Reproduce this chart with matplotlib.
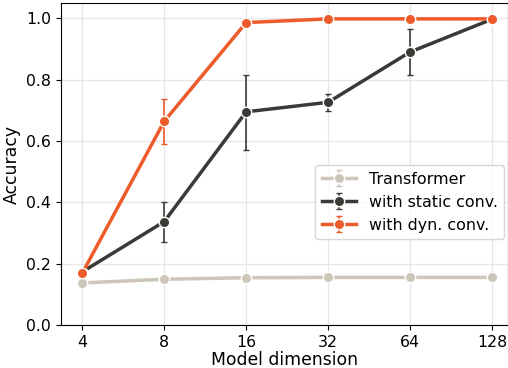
import matplotlib
matplotlib.use('Agg')
import matplotlib.pyplot as plt

# Dimensões do modelo e acurácias
dims = [4, 8, 16, 32, 64, 128]

transformer = [0.137, 0.149, 0.154, 0.155, 0.155, 0.155]
transformer_err = [0.003, 0.003, 0.003, 0.002, 0.002, 0.002]

static_conv = [0.173, 0.337, 0.695, 0.726, 0.890, 0.997]
static_lo = [0.165, 0.271, 0.572, 0.697, 0.815, 0.995]
static_hi = [0.182, 0.400, 0.815, 0.753, 0.964, 0.999]

dyn_conv = [0.169, 0.664, 0.986, 0.998, 0.998, 0.998]
dyn_lo = [0.158, 0.590, 0.984, 0.997, 0.997, 0.997]
dyn_hi = [0.180, 0.737, 0.988, 0.999, 0.999, 0.999]

labels = ['Transformer', 'with static conv.', 'with dyn. conv.']
colors = ['#cdc6b9', '#3c3a37', '#ec5b29']

fig = plt.figure(figsize=(5.08, 3.68), dpi=100)
ax = fig.add_axes([0.120, 0.117, 0.880, 0.875])

def err(v, lo, hi):
    return [[a - b for a, b in zip(v, lo)], [c - a for a, c in zip(v, hi)]]

series = [
    (transformer, [transformer_err, transformer_err]),
    (static_conv, err(static_conv, static_lo, static_hi)),
    (dyn_conv, err(dyn_conv, dyn_lo, dyn_hi)),
]

for (vals, yerr), lab, c in zip(series, labels, colors):
    ax.errorbar(dims, vals, yerr=yerr, color=c, label=lab, lw=2.5,
                marker='o', ms=7.5, mec='white', mew=1.0,
                elinewidth=1.2, capsize=2.5, capthick=1.2)

ax.set_xscale('log', base=2)
ax.set_xticks(dims)
ax.set_xticklabels([str(d) for d in dims])
ax.minorticks_off()
ax.set_xlim(4 * 2 ** -0.26, 128 * 2 ** 0.195)
ax.set_ylim(0, 1.05)
ax.set_yticks([0.0, 0.2, 0.4, 0.6, 0.8, 1.0])
ax.grid(True, color='#e6e6e6', lw=0.9)
ax.set_axisbelow(True)
ax.tick_params(labelsize=11.3, pad=3.5)
ax.set_xlabel('Model dimension', fontsize=12.4, labelpad=1)
ax.set_ylabel('Accuracy', fontsize=12.4, labelpad=4)
ax.legend(loc='lower right', bbox_to_anchor=(0.992, 0.267), borderaxespad=0,
          fontsize=11.4, handlelength=2.2)

fig.savefig('out.png', dpi=100)
